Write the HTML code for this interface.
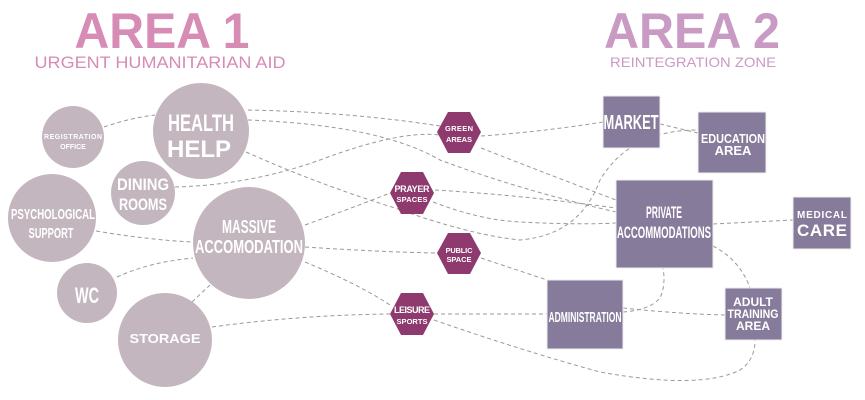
<!DOCTYPE html>
<html><head><meta charset="utf-8"><style>
html,body{margin:0;padding:0;background:#fff;}
svg{display:block}
text{font-family:"Liberation Sans Narrow","Liberation Sans",sans-serif;fill:#fff;text-anchor:middle;font-weight:bold}
.t{font-family:"Liberation Sans",sans-serif}
</style></head><body>
<svg width="865" height="400" viewBox="0 0 865 400" xmlns="http://www.w3.org/2000/svg">
<g fill="none" stroke="#9a9a9a" stroke-width="1" stroke-dasharray="4,3">
<path d="M104,127 Q130,118 155,115"/>
<path d="M248,110 Q350,112 440,126"/>
<path d="M248,120 Q380,125 440,160 Q520,190 616,212"/>
<path d="M246,152 Q320,185 395,208 Q470,235 520,240 Q580,235 600,180 Q630,130 698,130"/>
<path d="M175,187 Q250,185 320,160 Q400,130 440,135"/>
<path d="M481,136 Q540,132 603,122"/>
<path d="M660,124 L698,133"/>
<path d="M481,148 Q550,175 616,200"/>
<path d="M305,225 Q360,205 390,193"/>
<path d="M435,190 Q520,195 616,208"/>
<path d="M433,202 Q480,220 520,222 Q580,225 616,223"/>
<path d="M96,231 Q150,240 193,242"/>
<path d="M305,247 Q380,252 437,253"/>
<path d="M305,262 Q360,285 390,305"/>
<path d="M117,277 Q150,262 193,258"/>
<path d="M481,258 L547,280"/>
<path d="M192,302 L210,285"/>
<path d="M212,327 Q300,315 390,314"/>
<path d="M434,314 L547,314"/>
<path d="M434,320 Q520,350 600,372 Q700,390 740,370 Q755,360 755,340"/>
<path d="M623,312 Q650,310 660,298 Q666,285 663,268"/>
<path d="M623,308 Q680,314 725,315"/>
<path d="M713,246 Q740,260 750,288"/>
<path d="M713,224 L793,220"/>
</g>
<g fill="#c4b6be">
<circle cx="73" cy="137" r="31"/>
<circle cx="201" cy="131" r="48"/>
<circle cx="143" cy="193" r="32"/>
<circle cx="52" cy="218" r="44"/>
<circle cx="249" cy="243" r="56"/>
<circle cx="87" cy="293" r="30"/>
<circle cx="165" cy="340" r="47"/>
</g>
<g fill="#8e3a6e">
<polygon points="437,132 448,112 470,112 481,132 470,153 448,153"/>
<polygon points="390,193 401,172 423,172 434,193 423,214 401,214"/>
<polygon points="437,253 448,233 470,233 481,253 470,274 448,274"/>
<polygon points="390,314 401,293 423,293 434,314 423,335 401,335"/>
</g>
<g fill="#877b9b" stroke="#eee" stroke-width="1">
<rect x="603" y="96" width="57" height="52"/>
<rect x="698" y="112" width="68" height="61"/>
<rect x="616" y="180" width="97" height="88"/>
<rect x="793" y="197" width="58" height="52"/>
<rect x="547" y="280" width="76" height="69"/>
<rect x="725" y="288" width="57" height="52"/>
</g>
<text x="162" y="48" class="t" style="font-size:50px;fill:#d68cb5" textLength="175" lengthAdjust="spacingAndGlyphs">AREA 1</text>
<text x="160" y="68" class="t" style="font-size:17px;fill:#d68cb5;font-weight:normal" textLength="251" lengthAdjust="spacingAndGlyphs">URGENT HUMANITARIAN AID</text>
<text x="692" y="48" class="t" style="font-size:50px;fill:#c99ac3" textLength="176" lengthAdjust="spacingAndGlyphs">AREA 2</text>
<text x="693" y="67" class="t" style="font-size:14px;fill:#c99ac3;font-weight:normal" textLength="166" lengthAdjust="spacingAndGlyphs">REINTEGRATION ZONE</text>

<text x="73" y="139" class="t" style="font-size:7px" textLength="58">REGISTRATION</text>
<text x="73" y="149" class="t" style="font-size:7px">OFFICE</text>
<text x="201" y="131" style="font-size:24px" textLength="66" lengthAdjust="spacingAndGlyphs">HEALTH</text>
<text x="199" y="157" style="font-size:24px">HELP</text>
<text x="143" y="190" style="font-size:17px" textLength="52" lengthAdjust="spacingAndGlyphs">DINING</text>
<text x="143" y="210" style="font-size:17px" textLength="48" lengthAdjust="spacingAndGlyphs">ROOMS</text>
<text x="53" y="219" style="font-size:15px" textLength="84" lengthAdjust="spacingAndGlyphs">PSYCHOLOGICAL</text>
<text x="51" y="238" style="font-size:15px" textLength="45" lengthAdjust="spacingAndGlyphs">SUPPORT</text>
<text x="249" y="233" style="font-size:18px" textLength="54" lengthAdjust="spacingAndGlyphs">MASSIVE</text>
<text x="249" y="253" style="font-size:18px" textLength="108" lengthAdjust="spacingAndGlyphs">ACCOMODATION</text>
<text x="87" y="303" style="font-size:22px" textLength="24" lengthAdjust="spacingAndGlyphs">WC</text>
<text x="165" y="343" class="t" style="font-size:13px" textLength="71" lengthAdjust="spacingAndGlyphs">STORAGE</text>

<text x="459" y="131" class="t" style="font-size:7.5px" textLength="28">GREEN</text>
<text x="459" y="142" class="t" style="font-size:7.5px" textLength="26">AREAS</text>
<text x="412" y="192" class="t" style="font-size:9px" textLength="35">PRAYER</text>
<text x="412" y="202" class="t" style="font-size:7.5px" textLength="31">SPACES</text>
<text x="459" y="253" class="t" style="font-size:7.5px" textLength="27">PUBLIC</text>
<text x="459" y="262" class="t" style="font-size:7.5px" textLength="25">SPACE</text>
<text x="412" y="313" class="t" style="font-size:9px" textLength="36">LEISURE</text>
<text x="412" y="324" class="t" style="font-size:7.5px" textLength="31">SPORTS</text>

<text x="631" y="129" style="font-size:20px" textLength="55" lengthAdjust="spacingAndGlyphs">MARKET</text>
<text x="733" y="143" style="font-size:13px" textLength="64" lengthAdjust="spacingAndGlyphs">EDUCATION</text>
<text x="733" y="155" style="font-size:13px">AREA</text>
<text x="664" y="218" style="font-size:17px" textLength="36" lengthAdjust="spacingAndGlyphs">PRIVATE</text>
<text x="664" y="238" style="font-size:17px" textLength="94" lengthAdjust="spacingAndGlyphs">ACCOMMODATIONS</text>
<text x="822" y="218" class="t" style="font-size:10px" textLength="50">MEDICAL</text>
<text x="822" y="236" class="t" style="font-size:17px" textLength="50">CARE</text>
<text x="585" y="322" style="font-size:15px" textLength="73" lengthAdjust="spacingAndGlyphs">ADMINISTRATION</text>
<text x="753" y="306" style="font-size:12px">ADULT</text>
<text x="753" y="318" style="font-size:12px" textLength="51" lengthAdjust="spacingAndGlyphs">TRAINING</text>
<text x="753" y="330" style="font-size:12px">AREA</text>
</svg>
</body></html>
